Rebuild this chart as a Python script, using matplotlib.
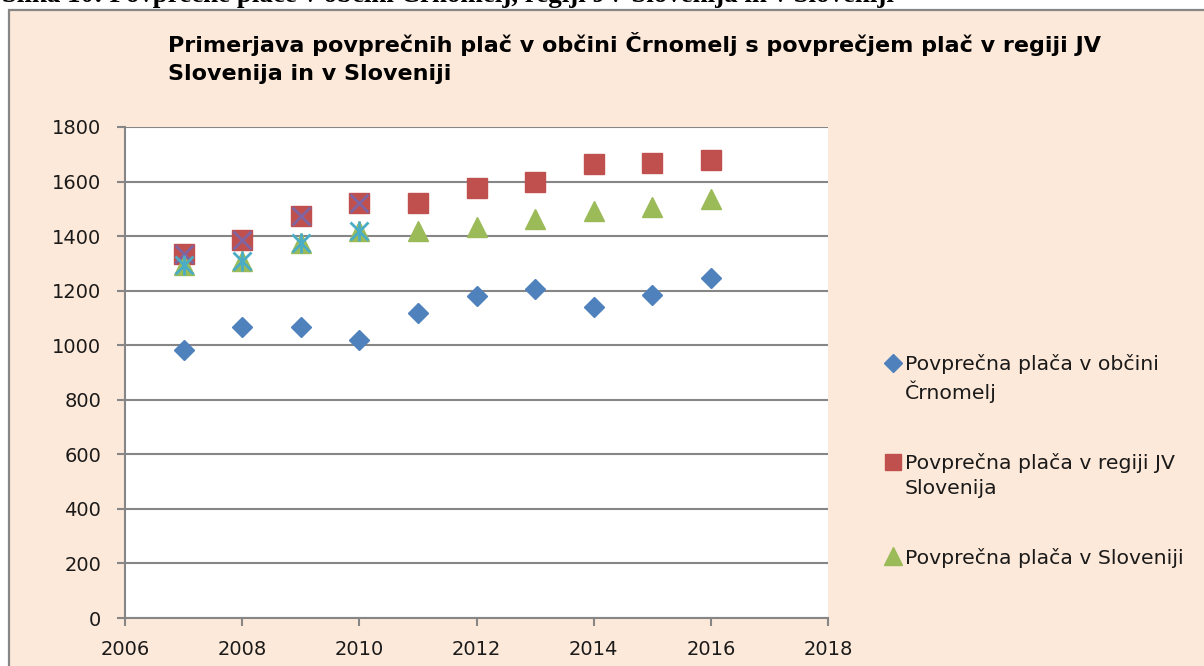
import matplotlib.pyplot as plt
from matplotlib.patches import Rectangle

plt.rcParams['font.family'] = ['DejaVu Sans']

years = [2007, 2008, 2009, 2010, 2011, 2012, 2013, 2014, 2015, 2016]
crnomelj = [982, 1067, 1068, 1019, 1118, 1180, 1206, 1140, 1184, 1246]
jv_slovenija = [1334, 1386, 1474, 1521, 1521, 1576, 1598, 1664, 1668, 1679]
slovenija = [1294, 1309, 1375, 1419, 1419, 1433, 1463, 1492, 1507, 1536]

# dodatni seriji (samo 2007-2010), ki nista v legendi
extra_years = [2007, 2008, 2009, 2010]
extra_jv = [1334, 1386, 1474, 1521]
extra_slo = [1294, 1309, 1375, 1419]

labels = ['Povprečna plača v občini\nČrnomelj',
          'Povprečna plača v regiji JV\nSlovenija',
          'Povprečna plača v Sloveniji']

bg = '#FDE9D9'
grid_col = '#868686'

fig = plt.figure(figsize=(12.04, 6.66), dpi=100)
fig.patch.set_facecolor('white')

# okvir grafikona
fig.patches.append(Rectangle((9 / 1204, -0.1), 1.2, 1 - 10 / 666 + 0.1,
                             transform=fig.transFigure, facecolor=bg,
                             edgecolor=grid_col, linewidth=1.6, zorder=-5))

fig.text(2 / 1204, 1 - 2 / 666, 'Slika 10: Povprečne plače v občini Črnomelj, regiji JV Slovenija in v Sloveniji',
         family='Liberation Serif', fontweight='bold', fontsize=19.4,
         va='baseline', ha='left')

fig.text(168 / 1204, 1 - 80 / 666,
         'Primerjava povprečnih plač v občini Črnomelj s povprečjem plač v regiji JV\nSlovenija in v Sloveniji',
         fontsize=16, fontweight='bold', va='baseline', ha='left', linespacing=1.5)

ax = fig.add_axes([125 / 1204, 1 - 618 / 666, (828 - 125) / 1204, (618 - 127) / 666])
ax.set_facecolor('white')

h1, = ax.plot(years, crnomelj, 'D', color='#4F81BD', markersize=10.5, linestyle='none', zorder=3)
h2, = ax.plot(years, jv_slovenija, 's', color='#C0504D', markersize=14, linestyle='none', zorder=3)
h3, = ax.plot(years, slovenija, '^', color='#9BBB59', markersize=15, linestyle='none', zorder=3)
ax.plot(extra_years, extra_jv, 'x', color='#8064A2', markersize=13, markeredgewidth=2, linestyle='none', zorder=4)
ax.plot(extra_years, extra_slo, 'x', color='#4BACC6', markersize=13, markeredgewidth=2, linestyle='none', zorder=4)
ax.plot(extra_years, extra_slo, '|', color='#4BACC6', markersize=15, markeredgewidth=2, linestyle='none', zorder=4)

ax.set_xlim(2006, 2018)
ax.set_ylim(0, 1800)
ax.set_xticks(range(2006, 2019, 2))
ax.set_yticks(range(0, 1801, 200))
ax.yaxis.grid(True, color=grid_col, linewidth=1.5)
ax.set_axisbelow(True)
for s in ['top', 'right']:
    ax.spines[s].set_visible(False)
for s in ['left', 'bottom']:
    ax.spines[s].set_color(grid_col)
    ax.spines[s].set_linewidth(1.5)
ax.tick_params(axis='both', colors=grid_col, width=1.5, length=6, labelsize=14, labelcolor='#1a1a1a')
ax.tick_params(axis='y', pad=11)
ax.tick_params(axis='x', pad=10)

leg = fig.legend([h1, h2, h3], labels, loc='upper left',
                 bbox_to_anchor=(864 / 1204, 1 - 336 / 666), frameon=False,
                 fontsize=14.7, labelspacing=2.45, handletextpad=0.1,
                 handlelength=1.0, handleheight=1.1, markerscale=0.85)
# marker poravnan s prvo vrstico oznake
for col in leg._legend_handle_box.get_children():
    for item in col.get_children():
        item.align = 'top'
for t in leg.get_texts():
    t.set_linespacing(1.35)
    t.set_color('#1a1a1a')

fig.savefig('out.png', dpi=100, facecolor=fig.get_facecolor())
